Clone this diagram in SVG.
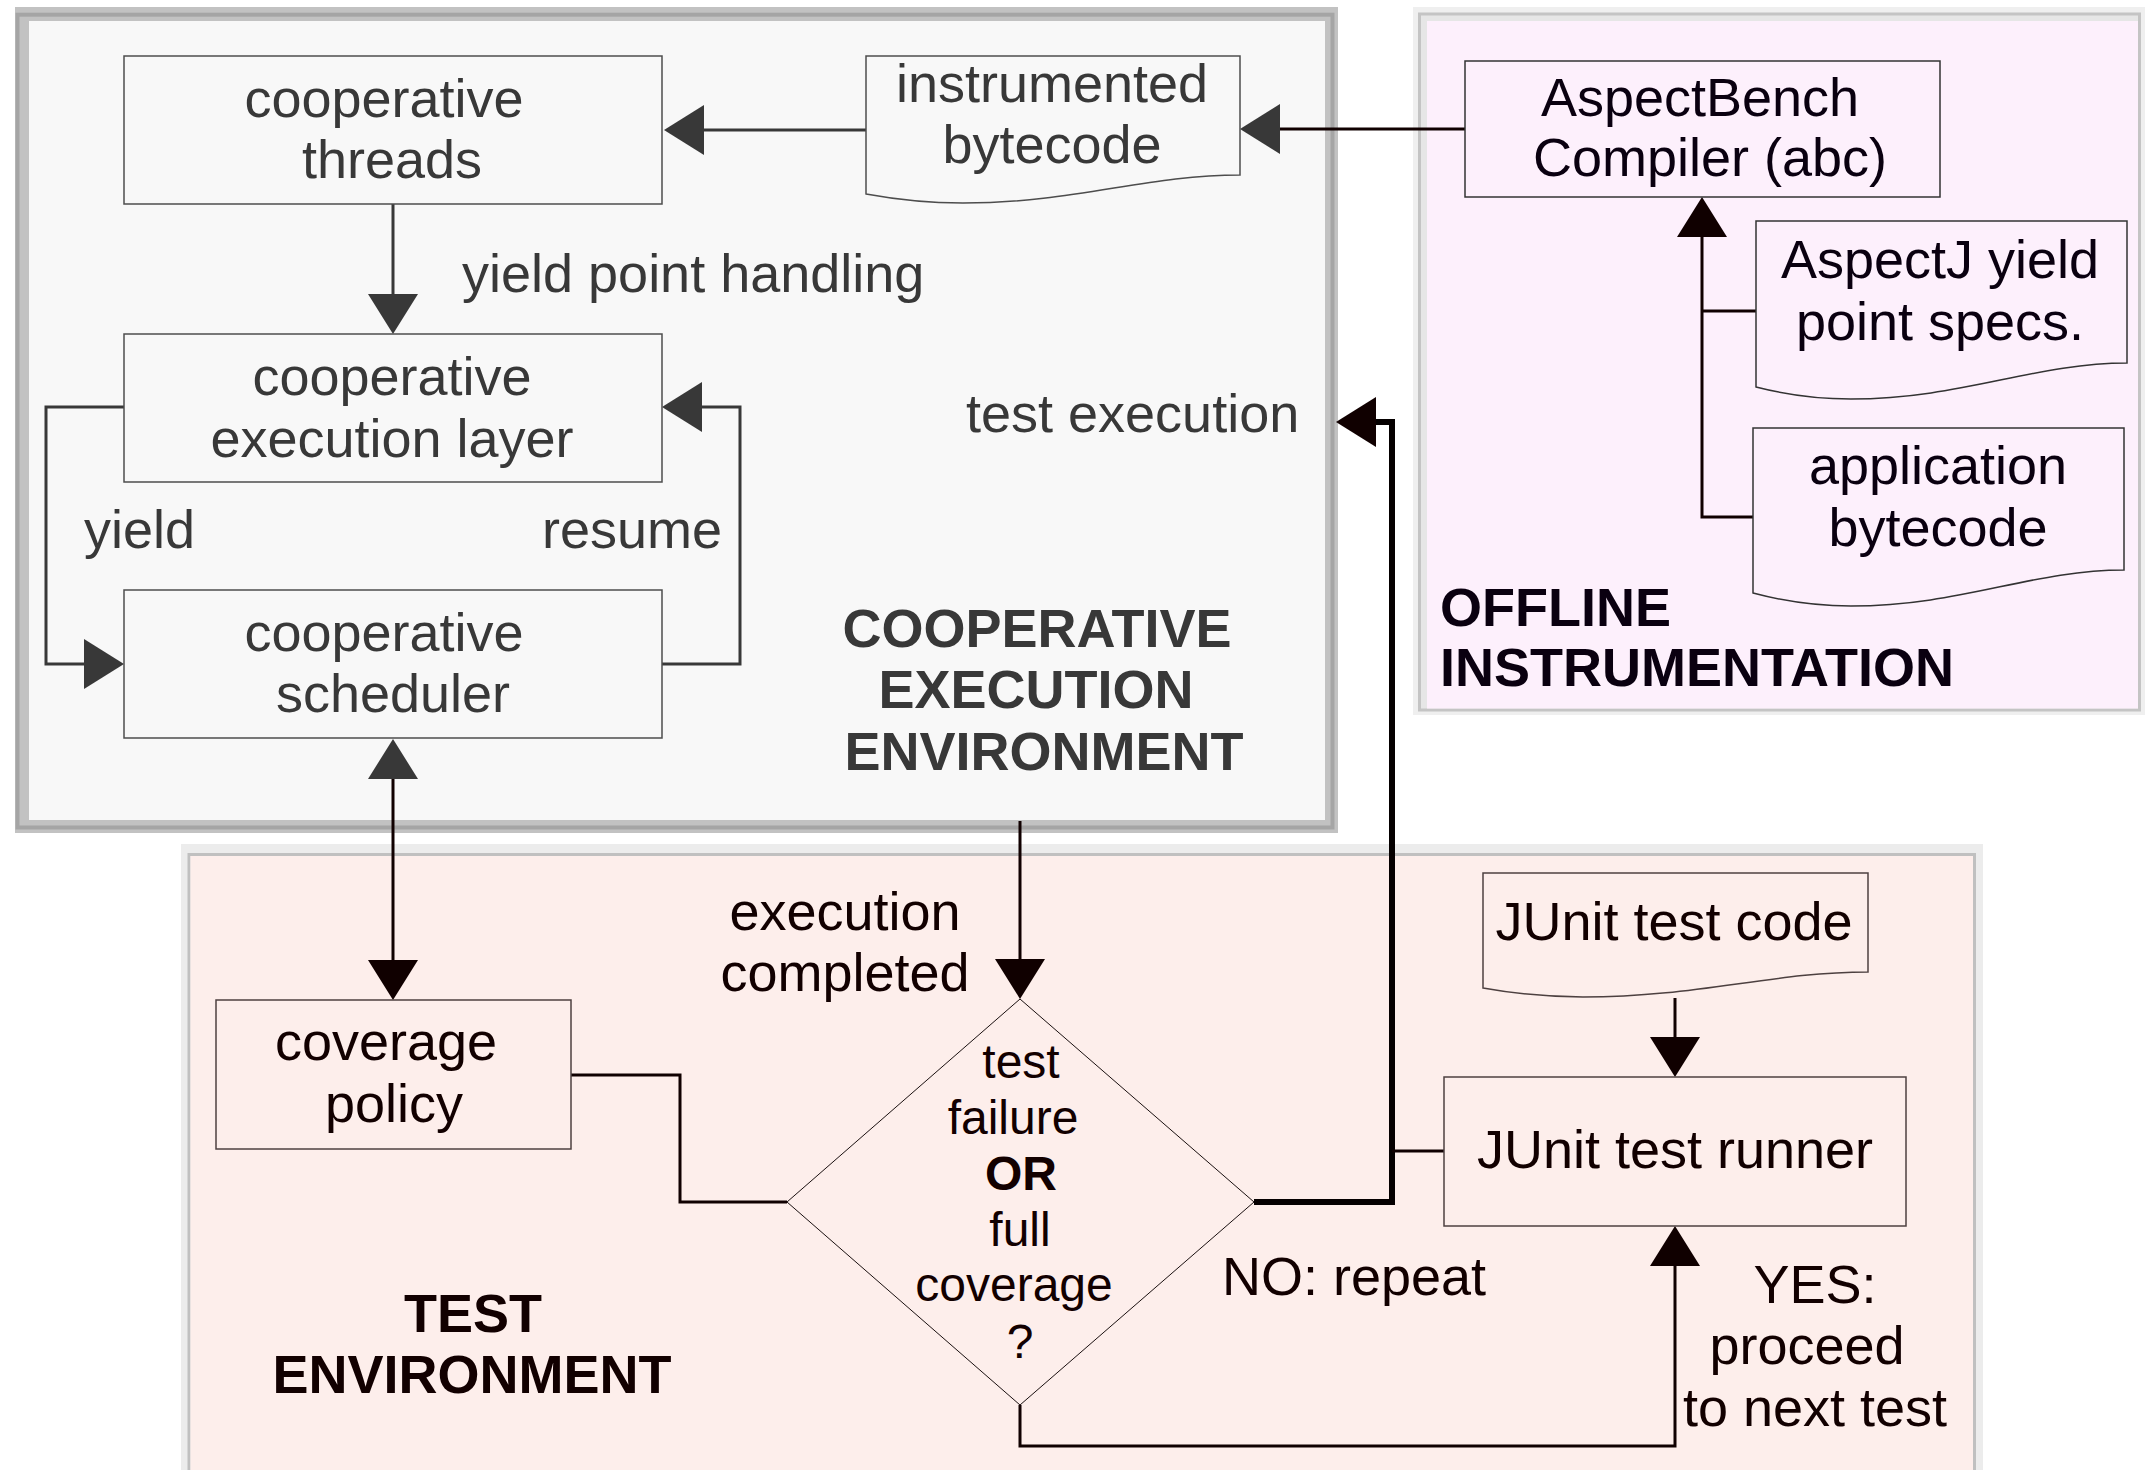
<svg xmlns="http://www.w3.org/2000/svg" width="2145" height="1470" viewBox="0 0 2145 1470">
  <defs>
    <style>
      .t { font-family: "Liberation Sans", Arial, sans-serif; font-size: 54px; text-anchor: middle; }
      .s { font-size: 48px; }
      .b { font-weight: bold; }
      .l { text-anchor: start; }
      .g { fill: #383838; }
      .k { fill: #0a0010; }
      .r { fill: #120000; }
      .cee-box { fill: #f8f8f8; stroke: #4d4d4d; stroke-width: 1.5; }
      .off-box { fill: #fdf0fc; stroke: #333333; stroke-width: 1.5; }
      .te-box { fill: #fdeeeb; stroke: #4d4040; stroke-width: 1.5; }
      .wg { fill: none; stroke: #383838; stroke-width: 3; }
      .wk { fill: none; stroke: #100000; stroke-width: 3; }
      .wthick { fill: none; stroke: #050000; stroke-width: 6; }
    </style>
    <!-- arrowheads: base sits on the path end, tip points forward -->
    <marker id="arrow-g" markerUnits="userSpaceOnUse" viewBox="0 0 40 50" markerWidth="40" markerHeight="50" refX="0" refY="25" orient="auto-start-reverse">
      <path d="M0,0 L40,25 L0,50 Z" fill="#383838"/>
    </marker>
    <marker id="arrow-k" markerUnits="userSpaceOnUse" viewBox="0 0 40 50" markerWidth="40" markerHeight="50" refX="0" refY="25" orient="auto-start-reverse">
      <path d="M0,0 L40,25 L0,50 Z" fill="#100000"/>
    </marker>
  </defs>

  <rect x="0" y="0" width="2145" height="1470" fill="#ffffff"/>

  <!-- environment frames -->
  <g id="frame-cooperative-execution">
    <rect x="15" y="7" width="1323" height="826" fill="#c2c2c2"/>
    <rect x="17.5" y="14.7" width="1315" height="812.8" fill="none" stroke="#a5a5a5" stroke-width="4"/>
    <rect x="29" y="21" width="1296" height="799" fill="#f8f8f8"/>
    <text class="t b g" x="1037" y="647">COOPERATIVE</text>
    <text class="t b g" x="1036" y="708">EXECUTION</text>
    <text class="t b g" x="1044" y="770">ENVIRONMENT</text>
  </g>

  <g id="frame-offline-instrumentation">
    <rect x="1413" y="7" width="732" height="708" fill="#efefef"/>
    <rect x="1419.5" y="14" width="720" height="696" fill="#e6e6e6" stroke="#c4c4c4" stroke-width="3"/>
    <rect x="1427" y="21" width="711" height="687.5" fill="#fdf0fc"/>
    <text class="t b k l" x="1440" y="626">OFFLINE</text>
    <text class="t b k l" x="1440" y="686">INSTRUMENTATION</text>
  </g>

  <g id="frame-test-environment">
    <rect x="181" y="844" width="1802" height="640" fill="#ececec"/>
    <rect x="189" y="854.5" width="1785.5" height="640" fill="none" stroke="#c0c0c0" stroke-width="3"/>
    <rect x="190.5" y="856" width="1782.5" height="620" fill="#fdeeeb"/>
    <text class="t b r" x="473" y="1332">TEST</text>
    <text class="t b r" x="472" y="1393">ENVIRONMENT</text>
  </g>

  <!-- connectors -->
  <g id="connectors">
    <path class="wg" d="M393,204 V294" marker-end="url(#arrow-g)"/>
    <path class="wg" d="M866,130 H704" marker-end="url(#arrow-g)"/>
    <path class="wg" d="M124,407 H46 V664 H84" marker-end="url(#arrow-g)"/>
    <path class="wg" d="M662,664 H740 V407 H702" marker-end="url(#arrow-g)"/>
    <path class="wk" d="M1465,129 H1280" marker-end="url(#arrow-g)"/>
    <path class="wk" d="M393,779 V960" marker-start="url(#arrow-g)" marker-end="url(#arrow-k)"/>
    <path class="wk" d="M1020,821 V959" marker-end="url(#arrow-k)"/>
    <path class="wthick" d="M1254,1202 H1392 V422 H1376" marker-end="url(#arrow-k)"/>
    <path class="wk" d="M1444,1151 H1392"/>
    <path class="wk" d="M571,1075 H680 V1202 H787"/>
    <path class="wk" d="M1020,1405 V1446 H1675 V1266" marker-end="url(#arrow-k)"/>
    <path class="wk" d="M1675,998 V1037" marker-end="url(#arrow-k)"/>
    <path class="wk" d="M1753,517 H1702 V237" marker-end="url(#arrow-k)"/>
    <path class="wk" d="M1756,311 H1702"/>
  </g>

  <!-- connector labels -->
  <g id="labels">
    <text class="t g l" x="462" y="292">yield point handling</text>
    <text class="t g l" x="84" y="548">yield</text>
    <text class="t g l" x="542" y="548">resume</text>
    <text class="t g l" x="966" y="432">test execution</text>
    <text class="t r" x="845" y="930">execution</text>
    <text class="t r" x="845" y="991">completed</text>
    <text class="t r l" x="1222" y="1295">NO: repeat</text>
    <text class="t r" x="1815" y="1303">YES:</text>
    <text class="t r" x="1807" y="1364">proceed</text>
    <text class="t r" x="1815" y="1426">to next test</text>
  </g>

  <!-- cooperative execution environment nodes -->
  <g id="cooperative-threads">
    <rect class="cee-box" x="124" y="56" width="538" height="148"/>
    <text class="t g" x="384" y="117">cooperative</text>
    <text class="t g" x="392" y="178">threads</text>
  </g>
  <g id="instrumented-bytecode">
    <path class="cee-box" d="M866,56 H1240 V175 C1146,175 1075,203 963,203 Q915,203 866,194 Z"/>
    <text class="t g" x="1052" y="102">instrumented</text>
    <text class="t g" x="1052" y="163">bytecode</text>
  </g>
  <g id="cooperative-execution-layer">
    <rect class="cee-box" x="124" y="334" width="538" height="148"/>
    <text class="t g" x="392" y="395">cooperative</text>
    <text class="t g" x="392" y="457">execution layer</text>
  </g>
  <g id="cooperative-scheduler">
    <rect class="cee-box" x="124" y="590" width="538" height="148"/>
    <text class="t g" x="384" y="651">cooperative</text>
    <text class="t g" x="393" y="712">scheduler</text>
  </g>

  <!-- offline instrumentation nodes -->
  <g id="aspectbench-compiler">
    <rect class="off-box" x="1465" y="61" width="475" height="136"/>
    <text class="t k" x="1700" y="116">AspectBench</text>
    <text class="t k" x="1710" y="176">Compiler (abc)</text>
  </g>
  <g id="aspectj-specs">
    <path class="off-box" d="M1756,221 H2127 V363 C2034,363 1962,399 1851,399 Q1803,399 1756,387 Z"/>
    <text class="t k" x="1940" y="278">AspectJ yield</text>
    <text class="t k" x="1940" y="340">point specs.</text>
  </g>
  <g id="application-bytecode">
    <path class="off-box" d="M1753,428 H2124 V570 C2031,570 1962,606 1851,606 Q1802,606 1753,593 Z"/>
    <text class="t k" x="1938" y="484">application</text>
    <text class="t k" x="1938" y="546">bytecode</text>
  </g>

  <!-- test environment nodes -->
  <g id="coverage-policy">
    <rect class="te-box" x="216" y="1000" width="355" height="149"/>
    <text class="t r" x="386" y="1060">coverage</text>
    <text class="t r" x="394" y="1122">policy</text>
  </g>
  <g id="decision">
    <polygon points="1020,999 1254,1202 1020,1405 787,1202" fill="#fdeeeb" stroke="#1a1010" stroke-width="1"/>
    <text class="t s r" x="1021" y="1078">test</text>
    <text class="t s r" x="1013" y="1134">failure</text>
    <text class="t s b r" x="1021" y="1190">OR</text>
    <text class="t s r" x="1020" y="1246">full</text>
    <text class="t s r" x="1014" y="1301">coverage</text>
    <text class="t s r" x="1020" y="1358">?</text>
  </g>
  <g id="junit-test-code">
    <path class="te-box" d="M1483,873 H1868 V972 C1772,972 1698,997 1583,997 Q1533,997 1483,988 Z"/>
    <text class="t r" x="1674" y="940">JUnit test code</text>
  </g>
  <g id="junit-test-runner">
    <rect class="te-box" x="1444" y="1077" width="462" height="149"/>
    <text class="t r" x="1675" y="1168">JUnit test runner</text>
  </g>
</svg>
